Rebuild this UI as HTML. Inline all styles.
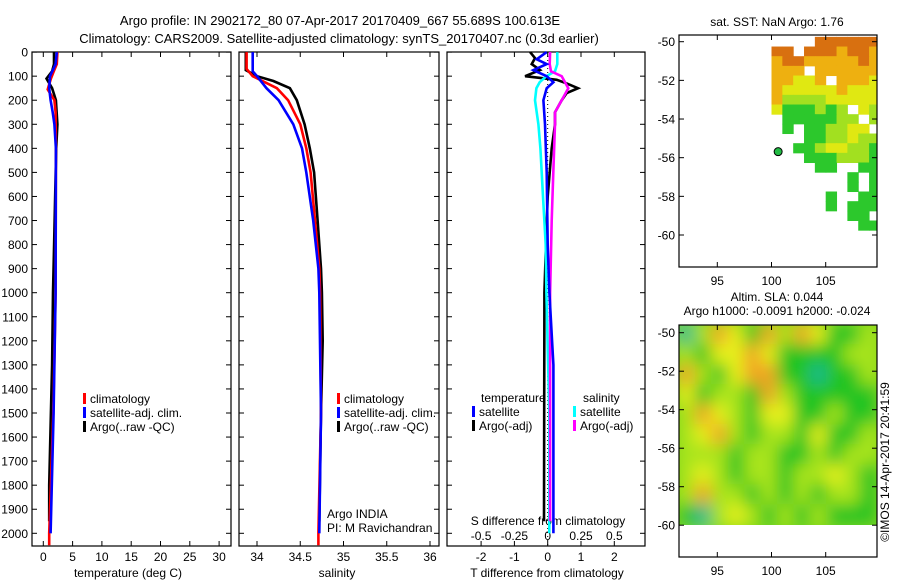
<!DOCTYPE html>
<html><head><meta charset="utf-8">
<style>
html,body{margin:0;padding:0;background:#fff;}
svg{display:block;font-family:"Liberation Sans",sans-serif;}
text{fill:#000;}
</style></head>
<body>
<svg id="fig" width="900" height="580" viewBox="0 0 900 580" xmlns="http://www.w3.org/2000/svg">
<defs>
<filter id="blur" x="-0.1" y="-0.1" width="1.2" height="1.2"><feGaussianBlur stdDeviation="8"/></filter>
<clipPath id="slaclip"><rect x="679" y="325" width="198" height="200"/></clipPath>
</defs>
<text x="340" y="25" font-size="13" text-anchor="middle">Argo profile: IN 2902172_80 07-Apr-2017 20170409_667 55.689S 100.613E</text>
<text x="339" y="43" font-size="13" text-anchor="middle">Climatology: CARS2009. Satellite-adjusted climatology: synTS_20170407.nc (0.3d earlier)</text>
<g id="layer"></g>
</svg>
<script>
// ---------- data ----------
const depthTicks = [0,100,200,300,400,500,600,700,800,900,1000,1100,1200,1300,1400,1500,1600,1700,1800,1900,2000];
const tempTicks = [0,5,10,15,20,25,30];
const salTicks = [34,34.5,35,35.5,36];
const salTickLabels = ["34","34.5","35","35.5","36"];
const diffTTicks = [-2,-1,0,1,2];
const diffSTicks = [-0.5,-0.25,0,0.25,0.5];
const diffSTickLabels = ["-0.5","-0.25","0","0.25","0.5"];
const latTicks = [-50,-52,-54,-56,-58,-60];
const lonTicks = [95,100,105];

// temperature profiles
const climTDepth = [0,50,80,110,155,200,250,400,1000,1500,2000,2050];
const climT = [2.4,2.3,1.8,1.3,0.75,1.9,2.1,2.15,2.1,1.7,1.0,1.0];
const satTDepth = [0,50,100,150,200,250,300,400,1000,1500,2000];
const satT = [2.3,2.1,1.15,1.0,1.25,1.6,1.9,2.15,2.1,1.75,1.25];
const argoTDepth = [0,50,80,110,150,200,300,400,800,1000,1300,1500,1800,1950];
const argoT = [1.83,1.83,1.5,0.55,1.5,2.15,2.4,2.2,1.85,1.65,1.5,1.3,1.0,1.0];

// salinity profiles
const climSDepth = [0,70,100,150,200,300,400,500,700,900,1000,1500,2000,2050];
const climS = [33.88,33.88,33.95,34.23,34.36,34.50,34.57,34.62,34.67,34.72,34.73,34.74,34.71,34.71];
const satSDepth = [0,80,100,150,200,300,400,500,700,900,1000,1500,2000];
const satS = [33.95,33.95,34.0,34.11,34.25,34.42,34.52,34.57,34.65,34.71,34.72,34.74,34.72];
const argoSDepth = [0,75,100,120,150,200,300,400,500,700,900,1000,1200,1500,1950];
const argoS = [33.87,33.87,34.0,34.19,34.38,34.46,34.55,34.61,34.66,34.70,34.74,34.75,34.76,34.74,34.72];

// difference profiles
const dTSatDepth = [0,30,50,75,100,125,150,200,300,500,800,1000,1300,2000];
const dTSat = [-0.03,-0.33,-0.03,-0.43,-0.03,0.17,-0.03,-0.13,-0.08,-0.03,0.0,0.05,0.17,0.17];
const dTArgoDepth = [0,25,50,75,100,115,130,150,170,200,250,300,400,500,600,800,1000,1950];
const dTArgo = [-0.53,-0.38,-0.48,-0.23,-0.68,0.27,0.57,0.91,0.57,0.42,0.22,0.22,0.12,0.06,0.0,-0.05,-0.1,-0.11];
const dSSatDepth = [0,50,80,100,125,150,200,300,400,600,800,1000,1500,2000];
const dSSat = [0.072,0.072,0.055,-0.01,-0.06,-0.085,-0.095,-0.07,-0.055,-0.035,-0.015,-0.01,0.012,0.012];
const dSArgoDepth = [0,50,80,100,150,200,250,300,500,700,1000,1500,1950];
const dSArgo = [0.018,0.015,0.025,0.105,0.155,0.105,0.055,0.055,0.042,0.03,0.018,0.018,0.018];

// SST map grid (lon 100..110 by 1deg, lat -49.75 downward by 0.5deg); -1 = no data
const sstLon0 = 100, sstLat0 = -49.75;
const sstGrid = [
[-1,-1,-1,-1,4,4,4,4,4,4],
[4,4,-1,4,4,4,3,4,4,3],
[3,4,4,3,3,3,3,3,4,3],
[3,3,3,-1,3,3,3,3,3,3],
[3,3,2,2,3,-1,3,3,3,2],
[3,2,2,2,2,2,3,2,2,2],
[3,1,1,1,1,2,2,2,2,2],
[2,0,0,0,1,0,1,-1,2,1],
[-1,0,0,0,0,0,1,1,-1,1],
[-1,0,-1,0,0,1,1,2,2,-1],
[-1,-1,-1,0,0,1,1,2,1,1],
[-1,-1,0,0,1,2,2,1,1,0],
[-1,-1,-1,0,0,0,1,1,1,0],
[-1,-1,-1,-1,0,0,-1,-1,0,0],
[-1,-1,-1,-1,-1,-1,-1,0,-1,0],
[-1,-1,-1,-1,-1,-1,-1,0,-1,0],
[-1,-1,-1,-1,-1,0,-1,-1,0,0],
[-1,-1,-1,-1,-1,0,-1,0,0,0],
[-1,-1,-1,-1,-1,-1,-1,0,0,-1],
[-1,-1,-1,-1,-1,-1,-1,-1,0,0]
];
const sstColors = ["#2cc82c","#a2e020","#e0e812","#eeb010","#d87010"];
const argoLon = 100.613, argoLat = -55.689;

// SLA map grid (12 cols x 10 rows across map extent to -60)
const slaGrid = [
[0,2,4,3,1,4,2,4,3,1,1,2],
[2,1,3,3,4,3,1,1,1,1,2,2],
[4,2,1,3,4,4,1,1,0,1,1,2],
[3,1,2,2,1,4,2,1,1,1,1,1],
[2,4,3,2,1,3,3,1,1,2,1,1],
[2,3,4,2,1,2,2,1,3,1,1,2],
[2,2,2,1,2,2,1,1,2,1,2,2],
[2,3,2,1,2,2,1,2,2,3,2,1],
[2,4,2,2,1,2,1,2,1,2,2,1],
[1,0,2,3,2,1,2,1,2,1,1,1]
];
const slaColors = ["#1cb890","#22c420","#a8e41c","#e6f01c","#f0a424"];

// ---------- helpers ----------
const NS="http://www.w3.org/2000/svg";
const layer=document.getElementById('layer');
function mk(tag,attrs,parent){const e=document.createElementNS(NS,tag);for(const k in attrs)e.setAttribute(k,attrs[k]);(parent||layer).appendChild(e);return e;}
function txt(x,y,s,size,anchor,parent){const t=mk('text',{x:x,y:y,'font-size':size,'text-anchor':anchor||'middle'},parent);t.textContent=s;return t;}

const yD = d => 52.1 + d*0.2406;
const xT = v => 43.3 + 5.86*v;
const xS = v => 257 + 86.5*(v-34);
const xDT = v => 547.7 + 33.3*v;
const xDS = v => 547.7 + 133.2*v;
const mapX = lon => 717.3 + (lon-95)*10.84;
const map1Y = lat => 41.7 + (-50-lat)*19.33;
const map2Y = lat => 332.7 + (-50-lat)*19.25;

function frame(x0,y0,x1,y1,name){
  const r=mk('rect',{x:x0,y:y0,width:x1-x0,height:y1-y0,fill:'none',stroke:'#000','stroke-width':1.2});
  
  
}
function stepLine(depths,vals,xf,color,name){
  let d='';
  for(let i=0;i<depths.length;i++){
    const x=xf(vals[i]).toFixed(1), y=yD(depths[i]).toFixed(1);
    d+=(i?'L':'M')+x+' '+y+' ';
  }
  const p=mk('path',{d:d,fill:'none',stroke:color,'stroke-width':2.6,'stroke-linejoin':'miter'});
  
  
}
function legend(x,y,items,name){
  const g=mk('g',{});
  
  
  items.forEach((it,i)=>{
    mk('rect',{x:x,y:y+i*14-10,width:3,height:11,fill:it[1]},g);
    txt(x+7,y+i*14,it[0],12,'start',g);
  });
}

// ---------- profile panels ----------
const pTop=52, pBot=546;
const panels=[[32,231,'temperature-panel'],[239,439,'salinity-panel'],[447,645,'difference-panel']];
panels.forEach(p=>{
  frame(p[0],pTop,p[1],pBot,p[2]);
  depthTicks.forEach(d=>{
    mk('line',{x1:p[0],x2:p[0]+5,y1:yD(d),y2:yD(d),stroke:'#000'});
    mk('line',{x1:p[1],x2:p[1]-5,y1:yD(d),y2:yD(d),stroke:'#000'});
  });
});
depthTicks.forEach(d=>{
  const t=txt(28,yD(d)+4.5,String(d),12,'end');
  
  
});
function xTicks(vals,labels,xf,x0,x1,ly){
  vals.forEach((v,i)=>{
    const x=xf(v);
    mk('line',{x1:x,x2:x,y1:pTop,y2:pTop+5,stroke:'#000'});
    mk('line',{x1:x,x2:x,y1:pBot,y2:pBot-5,stroke:'#000'});
    if(ly){const t=txt(x,ly,labels[i],12,'middle');
      
      }
  });
}
xTicks(tempTicks,tempTicks.map(String),xT,32,231,561);
xTicks(salTicks,salTickLabels,xS,239,439,561);
xTicks(diffTTicks,diffTTicks.map(String),xDT,447,645,561);
diffSTicks.forEach((v,i)=>{const t=txt(xDS(v),540,diffSTickLabels[i],12,'middle');
  
  });
let t;
t=txt(128,577,'temperature (deg C)',12);
t=txt(337,577,'salinity',12);
t=txt(547,577,'T difference from climatology',12);
t=txt(548,525,'S difference from climatology',12);

// zero dotted line
const zl=mk('line',{x1:xDT(0),x2:xDT(0),y1:pTop,y2:pBot,stroke:'#000','stroke-dasharray':'1,3'});



stepLine(argoTDepth,argoT,xT,'#000','argo-temperature-line');
stepLine(climTDepth,climT,xT,'#f00','clim-temperature-line');
stepLine(satTDepth,satT,xT,'#00f','sat-temperature-line');

stepLine(argoSDepth,argoS,xS,'#000','argo-salinity-line');
stepLine(climSDepth,climS,xS,'#f00','clim-salinity-line');
stepLine(satSDepth,satS,xS,'#00f','sat-salinity-line');

stepLine(dTArgoDepth,dTArgo,xDT,'#000','argo-t-diff-line');
stepLine(dSSatDepth,dSSat,xDS,'#00ffff','sat-s-diff-line');
stepLine(dSArgoDepth,dSArgo,xDS,'#ff00ff','argo-s-diff-line');
stepLine(dTSatDepth,dTSat,xDT,'#0000ff','sat-t-diff-line');

legend(83,403,[['climatology','#f00'],['satellite-adj. clim.','#00f'],['Argo(..raw -QC)','#000']],'temperature-legend');
legend(337,403,[['climatology','#f00'],['satellite-adj. clim.','#00f'],['Argo(..raw -QC)','#000']],'salinity-legend');
t=txt(481,402,'temperature',12,'start');
t=txt(583,402,'salinity',12,'start');
legend(472,416,[['satellite','#00f'],['Argo(-adj)','#000']],'t-diff-legend');
legend(573,416,[['satellite','#00ffff'],['Argo(-adj)','#ff00ff']],'s-diff-legend');
t=txt(327,518,'Argo INDIA',12,'start');
t=txt(327,532,'PI: M Ravichandran',12,'start');

// ---------- SST map ----------
const m1=mk('g',{});


sstGrid.forEach((row,r)=>{
  row.forEach((v,c)=>{
    if(v<0)return;
    const x0=mapX(sstLon0+c), x1=mapX(sstLon0+c+1);
    const y0=map1Y(sstLat0-r*0.5), y1=map1Y(sstLat0-(r+1)*0.5);
    const xl=Math.max(x0,679), xr=Math.min(x1,877), yt=Math.max(y0,35);
    const cell=mk('rect',{x:xl,y:yt,width:xr-xl+0.5,height:y1-yt+0.5,fill:sstColors[v]},m1);
    
    
  });
});
frame(679,35,877,267,'sst-map-frame');
const dot=mk('circle',{cx:mapX(argoLon),cy:map1Y(argoLat),r:4,fill:'#22bb44',stroke:'#000','stroke-width':1});


t=txt(777,26,'sat. SST: NaN Argo: 1.76',12);

// ---------- SLA map ----------
const m2=mk('g',{'clip-path':'url(#slaclip)'});


const inner=mk('g',{filter:'url(#blur)'},m2);
const cw=198/12, ch=(map2Y(-60)-325)/10;
mk('rect',{x:660,y:305,width:240,height:240,fill:'#80d820'},inner);
slaGrid.forEach((row,r)=>{
  row.forEach((v,c)=>{
    const cell=mk('rect',{x:679+c*cw-1,y:325+r*ch-1,width:cw+2,height:ch+2,fill:slaColors[v]},inner);
    
    
  });
});
frame(679,325,877,557,'sla-map-frame');
t=txt(777,301,'Altim. SLA: 0.044',12);
t=txt(777,315,'Argo h1000: -0.0091 h2000: -0.024',12);

// map ticks
[[map1Y,35,267,285],[map2Y,325,557,575]].forEach(m=>{
  latTicks.forEach(lat=>{
    const y=m[0](lat);
    mk('line',{x1:679,x2:684,y1:y,y2:y,stroke:'#000'});
    mk('line',{x1:877,x2:872,y1:y,y2:y,stroke:'#000'});
    const l=txt(675,y+4.5,String(lat),12,'end');
    
    
  });
  lonTicks.forEach(lon=>{
    const x=mapX(lon);
    mk('line',{x1:x,x2:x,y1:m[1],y2:m[1]+5,stroke:'#000'});
    mk('line',{x1:x,x2:x,y1:m[2],y2:m[2]-5,stroke:'#000'});
    const l=txt(x,m[3],String(lon),12,'middle');
    
    
  });
});
t=txt(0,0,'\u00A9IMOS 14-Apr-2017 20:41:59',12,'middle');
t.setAttribute('transform','translate(889,462) rotate(-90)');


</script>
</body></html>
